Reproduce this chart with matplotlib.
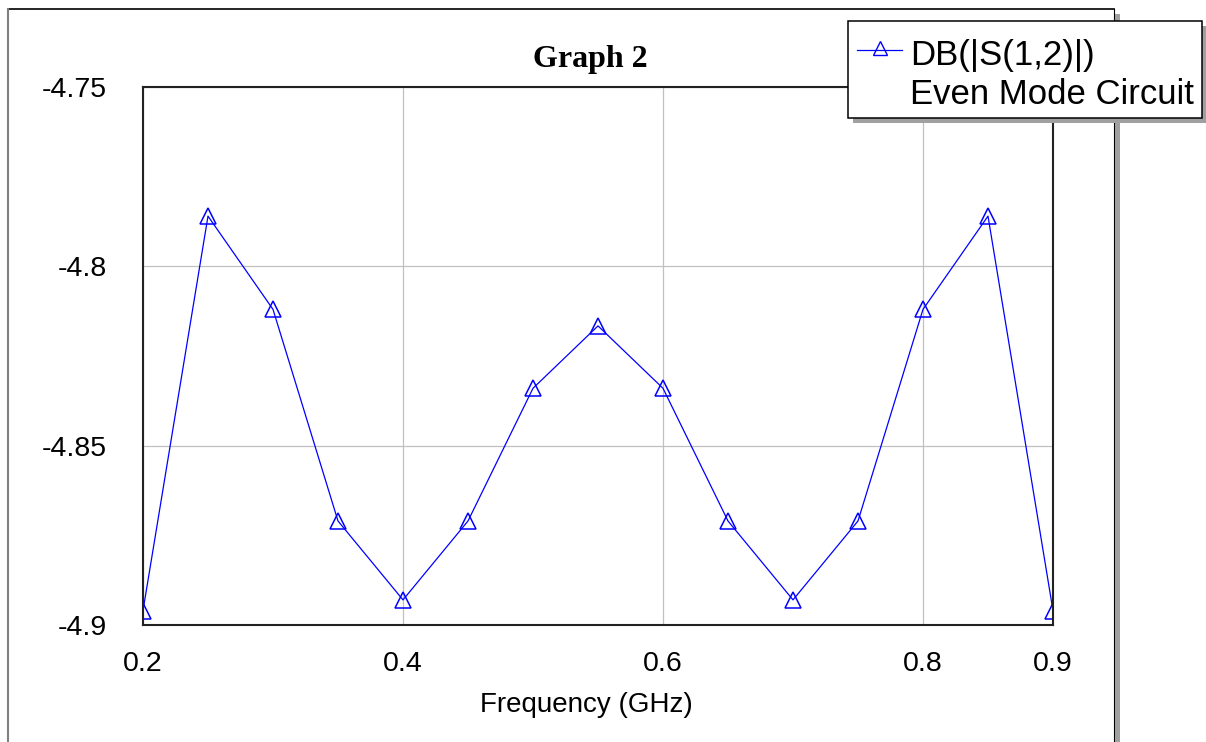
import matplotlib.pyplot as plt
from matplotlib.patches import Rectangle
from matplotlib.lines import Line2D

# data
freq = [0.2, 0.25, 0.3, 0.35, 0.4, 0.45, 0.5, 0.55, 0.6, 0.65, 0.7, 0.75, 0.8, 0.85, 0.9]
s12_db = [-4.896, -4.786, -4.812, -4.871, -4.893, -4.871, -4.834, -4.8166,
          -4.834, -4.871, -4.893, -4.871, -4.812, -4.786, -4.896]
xticks = [0.2, 0.4, 0.6, 0.8, 0.9]
xticklabels = ['0.2', '0.4', '0.6', '0.8', '0.9']
yticks = [-4.9, -4.85, -4.8, -4.75]
yticklabels = ['-4.9', '-4.85', '-4.8', '-4.75']

W, H = 1206, 742
def fx(x):
    return x / W
def fy(y):
    return 1 - y / H

plt.rcParams['font.family'] = ['Liberation Sans', 'DejaVu Sans']

fig = plt.figure(figsize=(W / 100, H / 100), dpi=100)
ax = fig.add_axes([fx(143), fy(625), (1053 - 143) / W, (625 - 87) / H])

ax.plot(freq, s12_db, color='#0000ff', lw=0.9, marker='^', ms=12,
        mfc='none', mec='#0000ff', mew=1.1)

ax.set_xlim(0.2, 0.9)
ax.set_ylim(-4.9, -4.75)
ax.set_xticks(xticks)
ax.set_xticklabels(xticklabels)
ax.set_yticks(yticks)
ax.set_yticklabels(yticklabels)
ax.tick_params(axis='both', length=0, labelsize=20.5)
ax.tick_params(axis='x', pad=19)
ax.tick_params(axis='y', pad=26)
ax.grid(True, color='#c0c0c0', lw=0.9)
ax.set_axisbelow(True)
for sp in ax.spines.values():
    sp.set_color('#222222')
    sp.set_linewidth(1.5)

ax.set_xlabel('Frequency (GHz)', fontsize=20, va='baseline')
ax.xaxis.set_label_coords((586 - 143) / 910, -(712 - 625) / 538)

fig.text(fx(590), fy(67), 'Graph 2', family='Liberation Serif', weight='bold',
         fontsize=23, ha='center', va='baseline')

# outer frame
fig.add_artist(Line2D([fx(8), fx(1114)], [fy(9), fy(9)], color='black', lw=1.2))
fig.add_artist(Line2D([fx(8), fx(8)], [fy(9), fy(742)], color='#808080', lw=1.5))
fig.add_artist(Line2D([fx(1114), fx(1114)], [fy(9), fy(742)], color='black', lw=0.8))
fig.add_artist(Rectangle((fx(1115), fy(742)), 5 / W, (742 - 14) / H,
                         facecolor='#a0a0a0', edgecolor='none', zorder=3))

# legend box with shadow
fig.add_artist(Rectangle((fx(853), fy(123)), (1207 - 853) / W, (123 - 26) / H,
                         facecolor='#a0a0a0', edgecolor='none', zorder=5))
fig.add_artist(Rectangle((fx(848), fy(118)), (1202 - 848) / W, (118 - 21) / H,
                         facecolor='white', edgecolor='black', lw=1.1, zorder=6))
fig.add_artist(Line2D([fx(857), fx(902)], [fy(50), fy(50)], color='#0000ff', lw=0.9, zorder=7))
fig.add_artist(Line2D([fx(880)], [fy(48)], color='#0000ff', marker='^', ms=10,
                      mfc='none', mec='#0000ff', mew=1.0, zorder=7))
fig.text(fx(910), fy(65), 'DB(|S(1,2)|)', fontsize=25, va='baseline', zorder=8)
fig.text(fx(910), fy(104), 'Even Mode Circuit', fontsize=25, va='baseline', zorder=8)

fig.savefig('out.png', dpi=100)
